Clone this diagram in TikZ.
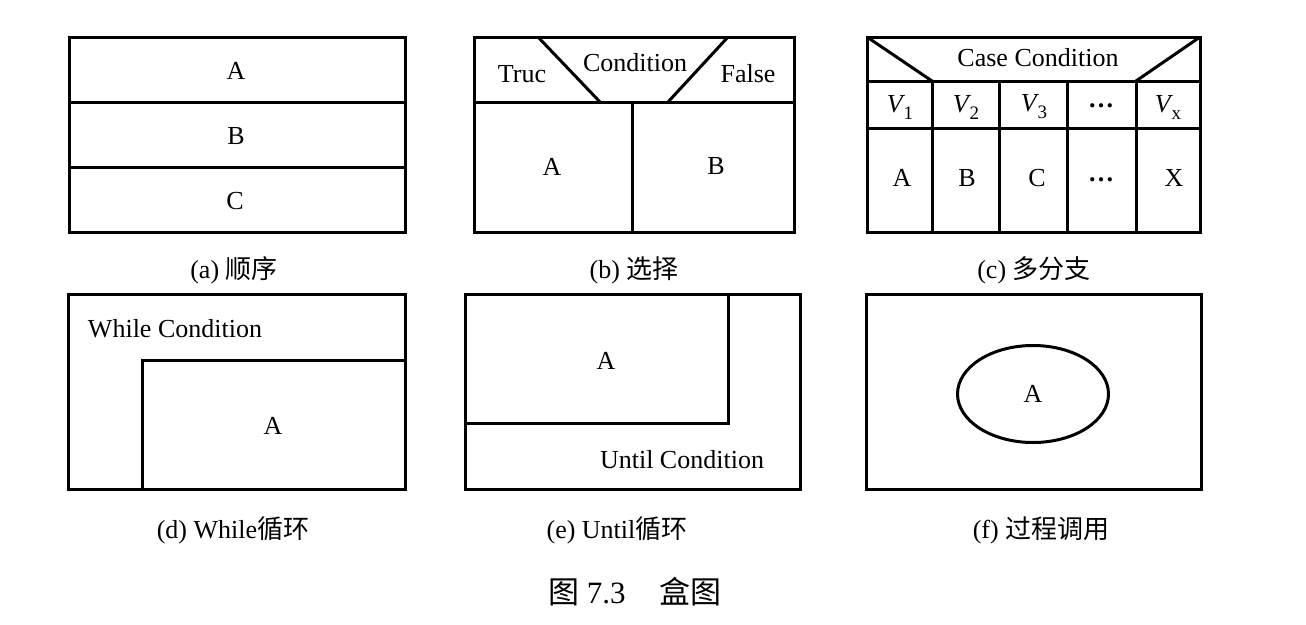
\documentclass[tikz,border=0pt]{standalone}
\usepackage{fontspec}
\setmainfont{Liberation Serif}
\newfontfamily\cjk{Noto Sans CJK SC}
\usetikzlibrary{shapes.geometric}
\newcommand{\vsub}[1]{{\itshape V}\kern1pt\raisebox{-7pt}{\fontsize{19}{20}\selectfont #1}}
\begin{document}
\begin{tikzpicture}[x=1pt,y=-1pt,
  box/.style={line width=3pt, line join=miter, line cap=rect},
  diag/.style={line width=3pt, line cap=butt},
  lbl/.style={font=\fontsize{26}{30}\selectfont, inner sep=0pt},
  captext/.style={font=\fontsize{26}{30}\selectfont, inner sep=0pt},
  figcap/.style={font=\fontsize{31}{36}\selectfont, inner sep=0pt},
  callnode/.style={draw, ellipse, line width=3pt, minimum width=151pt, minimum height=97pt, inner sep=0pt, font=\fontsize{26}{30}\selectfont}
]
\useasboundingbox (0,0) rectangle (1306,624);

% (a) sequence
\draw[box] (69,37) rectangle (405,232);
\draw[box] (69,102) -- (405,102);
\draw[box] (69,167) -- (405,167);
\node[lbl] (aA) at (236,71) {A};
\node[lbl] (aB) at (236,136) {B};
\node[lbl] (aC) at (235,201) {C};
\node[captext] (capa) at (234,270) {(a) {\cjk 顺序}};

% (b) selection
\draw[box] (474,37) rectangle (794,232);
\draw[box] (474,102) -- (794,102);
\draw[box] (632,102) -- (632,232);
\draw[diag] (538,37) -- (600,102);
\draw[diag] (728,37) -- (668,102);
\node[lbl] (bT) at (522,74) {Truc};
\node[lbl] (bC) at (635,63) {Condition};
\node[lbl] (bF) at (748,74) {False};
\node[lbl] (bA) at (552,167) {A};
\node[lbl] (bB) at (716,166) {B};
\node[captext] (capb) at (634,270) {(b) {\cjk 选择}};

% (c) case
\draw[box] (867,37) rectangle (1200,232);
\draw[box] (867,81) -- (1200,81);
\draw[box] (867,128) -- (1200,128);
\foreach \xx in {932,999,1067,1136} \draw[box] (\xx,81) -- (\xx,232);
\draw[diag] (867,37) -- (932,81);
\draw[diag] (1200,37) -- (1136,81);
\node[lbl] (cCase) at (1038,58) {Case Condition};
\node[lbl] (cV1) at (900,107) {\vsub{1}};
\node[lbl] (cV2) at (966,107) {\vsub{2}};
\node[lbl] (cV3) at (1034,107) {\vsub{3}};
\node[lbl] (cVd) at (1101,106) {\textbf{…}};
\node[lbl] (cVx) at (1168,107) {\vsub{x}};
\node[lbl] (cA) at (902,178) {A};
\node[lbl] (cB) at (967,178) {B};
\node[lbl] (cC) at (1037,178) {C};
\node[lbl] (cD) at (1101,180) {\textbf{…}};
\node[lbl] (cX) at (1174,178) {X};
\node[captext] (capc) at (1034,270) {(c) {\cjk 多分支}};

% (d) while
\draw[box] (68,294) rectangle (405,489);
\draw[box] (142,489) -- (142,360) -- (405,360);
\node[lbl] (dW) at (175,329) {While Condition};
\node[lbl] (dA) at (273,426) {A};
\node[captext] (capd) at (233,530) {(d) While{\cjk 循环}};

% (e) until
\draw[box] (465,294) rectangle (800,489);
\draw[box] (465,423) -- (728,423) -- (728,294);
\node[lbl] (eA) at (606,361) {A};
\node[lbl] (eU) at (682,460) {Until Condition};
\node[captext] (cape) at (617,530) {(e) Until{\cjk 循环}};

% (f) procedure call
\draw[box] (866,294) rectangle (1201,489);
\node[callnode] (fA) at (1033,394) {A};
\node[captext] (capf) at (1041,530) {(f) {\cjk 过程调用}};

% figure caption
\node[figcap] (fig) at (635,592) {{\cjk 图} 7.3\hspace{1.1em}{\cjk 盒图}};
\end{tikzpicture}
\end{document}
